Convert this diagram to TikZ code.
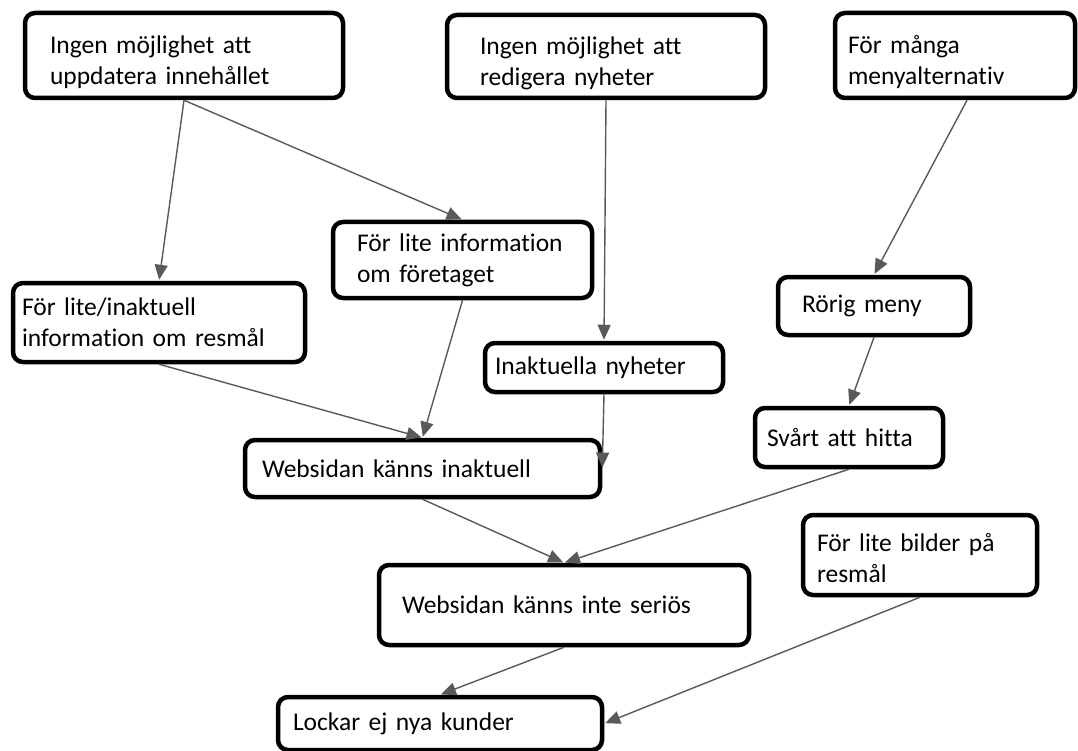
\documentclass[tikz,border=0pt]{standalone}
\usepackage{fontspec}
\setmainfont{Carlito}[Ligatures=NoCommon]
\usepackage{xcolor}
\usetikzlibrary{arrows.meta}
\definecolor{ink}{HTML}{000000}
\definecolor{inkgray}{HTML}{595959}
% extra room above the first line, pushes a two-line text down in its box
\newcommand{\topgap}[1]{\rule{0pt}{#1}}
\tikzset{
  every node/.style={text=ink},
  % one box style; width, height and left padding are given per node
  box/.style={draw=ink, fill=white, rounded corners=10pt, line width=4.5pt, align=left,
              inner ysep=0pt, font=\fontsize{25.5}{31}\selectfont},
  arr/.style={-{Triangle[length=15pt,width=13pt]}, line width=1.4pt, color=inkgray, shorten >=1pt},
}

\begin{document}
\begin{tikzpicture}[x=1pt,y=-1pt]
  \useasboundingbox (0,0) rectangle (1078,751);

  % top row: causes
  \node[box, inner xsep=25pt, text width=268pt, minimum height=85pt] (update) at (184,55.5)
        {\topgap{31pt}Ingen möjlighet att\\uppdatera innehållet};
  \node[box, inner xsep=33pt, text width=252pt, minimum height=83pt] (edit) at (606,56.5)
        {\topgap{31pt}Ingen möjlighet att\\redigera nyheter};
  \node[box, inner xsep=13pt, text width=214pt, minimum height=85pt] (menu) at (955,55.5)
        {\topgap{31pt}För många\\menyalternativ};

  % middle
  \node[box, inner xsep=24pt, text width=211pt, minimum height=76pt] (company) at (462.5,260)
        {För lite information\\om företaget};
  \node[box, inner xsep=9pt, text width=274pt, minimum height=79pt] (travel) at (159,322.5)
        {För lite/inaktuell\\information om resmål};
  \node[box, inner xsep=10pt, text width=218pt, minimum height=49pt] (oldnews) at (604,367.5)
        {Inaktuella nyheter};
  \node[box, inner xsep=24pt, text width=144pt, minimum height=58pt] (messy) at (874,306)
        {Rörig meny};
  \node[box, inner xsep=12pt, text width=164pt, minimum height=59pt] (hard) at (849,437.5)
        {Svårt att hitta};
  \node[box, inner xsep=17pt, text width=321pt, minimum height=57pt] (outdated) at (422.5,468.5)
        {Websidan känns inaktuell};

  % bottom
  \node[box, inner xsep=14pt, text width=206pt, minimum height=80pt] (photos) at (920,555)
        {\topgap{25pt}För lite bilder på\\resmål};
  \node[box, inner xsep=23pt, text width=324pt, minimum height=80pt] (serious) at (564,605)
        {Websidan känns inte seriös};
  \node[box, inner xsep=15pt, text width=294pt, minimum height=53pt] (customers) at (440,723.5)
        {Lockar ej nya kunder};

  \draw[arr] (update.south) -- (travel.north);
  \draw[arr] (update.south) -- (company.north);
  \draw[arr] (edit.south) -- (oldnews.north);
  \draw[arr] ([xshift=12pt]menu.south) -- (messy.north);
  \draw[arr] (travel.south) -- (outdated.north);
  \draw[arr] (company.south) -- (outdated.north);
  \draw[arr] (oldnews.south) -- (outdated.east);
  \draw[arr] (messy.south) -- (hard.north);
  \draw[arr] (outdated.south) -- (serious.north);
  \draw[arr] (hard.south) -- (serious.north);
  \draw[arr] (serious.south) -- (customers.north);
  \draw[arr] (photos.south) -- (customers.east);
\end{tikzpicture}
\end{document}
